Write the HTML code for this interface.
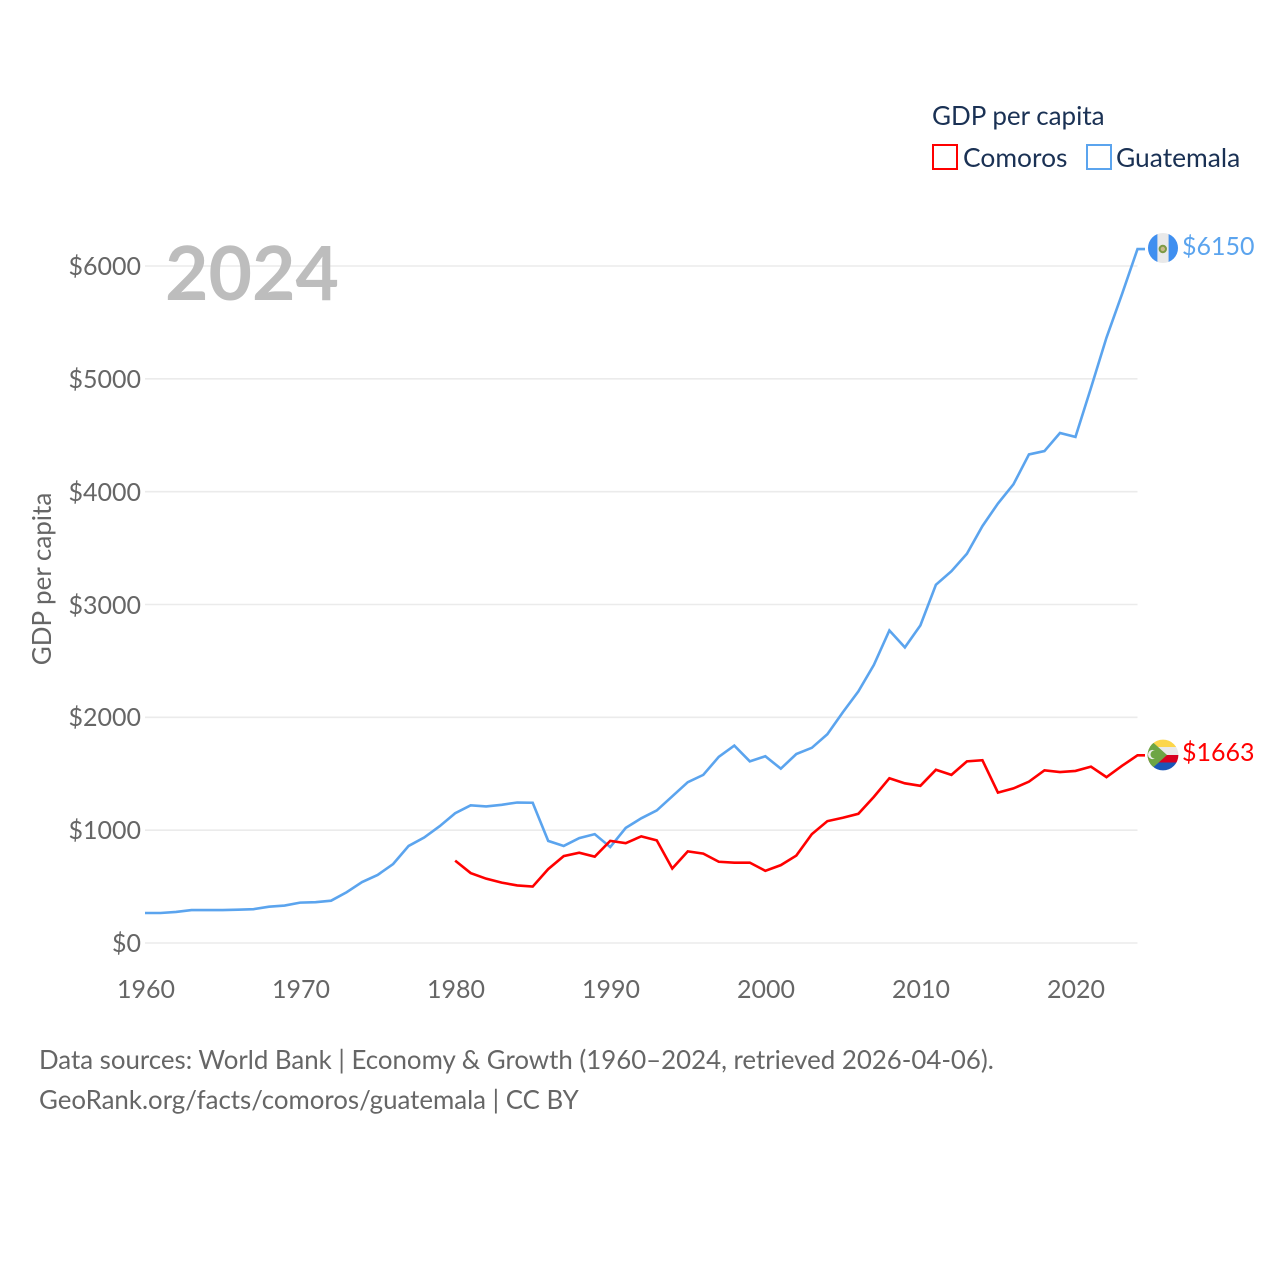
<!DOCTYPE html>
<html lang="en">
<head>
<meta charset="utf-8">
<title>GDP per capita: Comoros and Guatemala</title>
<style>
html,body{margin:0;padding:0;background:#fff}
body{position:relative;width:1280px;height:1280px;overflow:hidden}
svg{display:block;position:absolute;left:0;top:0}
.t{position:absolute;height:100px;line-height:0;white-space:nowrap;font-family:"Lato","Carlito","Liberation Sans",sans-serif}
.t::before{content:"";display:inline-block;height:100px;width:0}
</style>
</head>
<body>
<svg id="chart" xmlns="http://www.w3.org/2000/svg" width="1280" height="1280" viewBox="0 0 1280 1280">
  <rect width="1280" height="1280" fill="#fff"/>
  <g id="grid"></g>
  <g id="series"></g>

  <g>
    <rect x="933" y="145" width="24" height="24" fill="#fff" stroke="#ff0000" stroke-width="2"/>
    <rect x="1087" y="145" width="24" height="24" fill="#fff" stroke="#5ba4ee" stroke-width="2"/>
  </g>

  <defs>
    <clipPath id="flag-clip-gt"><circle cx="1163" cy="248" r="15"/></clipPath>
    <clipPath id="flag-clip-km"><circle cx="1163" cy="755" r="15.4"/></clipPath>
  </defs>
  <g clip-path="url(#flag-clip-gt)">
    <rect x="1147" y="232" width="32" height="32" fill="#e9e9e9"/>
    <rect x="1147" y="232" width="10.4" height="32" fill="#3f8ff0"/>
    <rect x="1168.6" y="232" width="10.4" height="32" fill="#3f8ff0"/>
    <circle cx="1162.8" cy="249" r="3.2" fill="#c9b98a" stroke="#7d9a45" stroke-width="2"/>
  </g>
  <g clip-path="url(#flag-clip-km)">
    <rect x="1147" y="739" width="32" height="8" fill="#fcd64a"/>
    <rect x="1147" y="747" width="32" height="8" fill="#e9e9e9"/>
    <rect x="1147" y="755" width="32" height="7.5" fill="#d8001f"/>
    <rect x="1147" y="762.5" width="32" height="8.5" fill="#1a56b8"/>
    <polygon points="1147,737 1167,755 1147,773" fill="#6da544"/>
    <circle cx="1152.6" cy="754.5" r="4.6" fill="#eeeeee"/>
    <circle cx="1154.6" cy="754.5" r="4.1" fill="#6da544"/>
  </g>
</svg>

<div class="t" style="left:165px;top:200px;font-size:75px;font-weight:700;color:#bdbdbd">2024</div>
<div class="t" style="left:-99px;top:479px;width:300px;text-align:center;font-size:26px;color:#666;transform:rotate(-90deg);transform-origin:150px 100px">GDP per capita</div>
<div class="t" style="left:932px;top:25px;font-size:26px;color:#1a3154">GDP per capita</div>
<div class="t" style="left:963px;top:67px;font-size:26.4px;color:#1a3154">Comoros</div>
<div class="t" style="left:1116px;top:67px;font-size:26.4px;color:#1a3154">Guatemala</div>
<div class="t" style="left:1182px;top:155px;font-size:25px;color:#5ba4ee">$6150</div>
<div class="t" style="left:1182px;top:661px;font-size:25px;color:#ff0000">$1663</div>
<div class="t" style="left:39px;top:969px;font-size:25.84px;color:#666">Data sources: World Bank | Economy &amp; Growth (1960–2024, retrieved 2026-04-06).</div>
<div class="t" style="left:39px;top:1009px;font-size:25.84px;color:#666">GeoRank.org/facts/comoros/guatemala | CC BY</div>

<script>
const xTicks = [1960, 1970, 1980, 1990, 2000, 2010, 2020];
const yTicks = [0, 1000, 2000, 3000, 4000, 5000, 6000];
const yTickLabels = ['$0', '$1000', '$2000', '$3000', '$4000', '$5000', '$6000'];
const guatemalaStart = 1960;
const guatemalaValues = [266,266,275,292,292,292,295,300,322,332,358,362,375,450,540,603,700,860,935,1035,1150,1220,1210,1225,1245,1243,905,860,930,965,850,1020,1105,1175,1300,1425,1490,1650,1750,1610,1655,1545,1675,1730,1850,2045,2230,2465,2770,2620,2815,3175,3295,3450,3695,3895,4065,4330,4360,4520,4485,4920,5365,5750,6150];
const comorosStart = 1980;
const comorosValues = [730,620,570,535,510,500,655,770,800,765,905,885,945,910,660,812,792,720,712,712,640,690,775,965,1080,1110,1145,1295,1460,1415,1393,1535,1490,1610,1620,1333,1370,1430,1530,1515,1525,1563,1470,1570,1663];

const NS = 'http://www.w3.org/2000/svg';
function xScale(year) { return 145 + (year - 1960) * (1137.5 - 145) / (2024 - 1960); }
function yScale(value) { return 943 - value * (943 - 266) / 6000; }
function make(tag, attrs, parent) {
  const el = document.createElementNS(NS, tag);
  for (const k in attrs) el.setAttribute(k, attrs[k]);
  parent.appendChild(el);
  return el;
}
function label(text, css) {
  const d = document.createElement('div');
  d.className = 't';
  d.textContent = text;
  d.style.cssText = css + ';font-size:25px;color:#666';
  document.body.appendChild(d);
  return d;
}
const gridG = document.getElementById('grid');
const seriesG = document.getElementById('series');

yTicks.forEach(function (v, i) {
  const line = make('line', { x1: 145, x2: 1137.5, y1: yScale(v), y2: yScale(v), stroke: '#ebebeb', 'stroke-width': 1.6 }, gridG);
  
  
  const t = label(yTickLabels[i], 'right:' + (1280 - 141) + 'px;top:' + Math.round(yScale(v) + 9 - 100) + 'px');
  
  
});
xTicks.forEach(function (y) {
  const t = label(String(y), 'left:' + Math.round(xScale(y) - 99.5) + 'px;width:200px;text-align:center;top:898px');
  
  
});
function drawSeries(values, start, color) {
  const pts = values.map(function (v, i) { return xScale(start + i).toFixed(2) + ',' + yScale(v).toFixed(2); });
  const lastY = yScale(values[values.length - 1]).toFixed(2);
  pts.push('1145,' + lastY);
  return make('polyline', { points: pts.join(' '), fill: 'none', stroke: color, 'stroke-width': 2.6, 'stroke-linejoin': 'miter' }, seriesG);
}
const gtLine = drawSeries(guatemalaValues, guatemalaStart, '#5ba4ee');


const kmLine = drawSeries(comorosValues, comorosStart, '#ff0000');


</script>
</body>
</html>
